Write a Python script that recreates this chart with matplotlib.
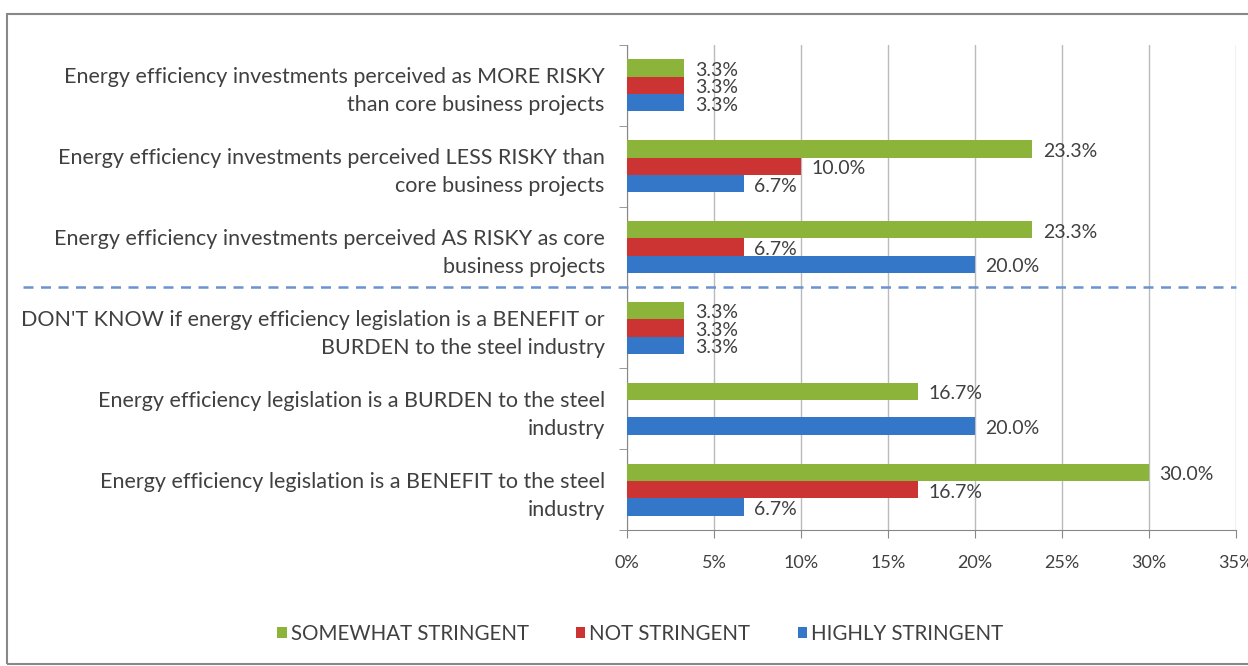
import matplotlib.pyplot as plt
from matplotlib.patches import Rectangle
import numpy as np

# categories from top to bottom
categories = [
    "Energy efficiency investments perceived as MORE RISKY\nthan core business projects",
    "Energy efficiency investments perceived LESS RISKY than\ncore business projects",
    "Energy efficiency investments perceived AS RISKY as core\nbusiness projects",
    "DON'T KNOW if energy efficiency legislation is a BENEFIT or\nBURDEN to the steel industry",
    "Energy efficiency legislation is a BURDEN to the steel\nindustry",
    "Energy efficiency legislation is a BENEFIT to the steel\nindustry",
]
somewhat = [3.3, 23.3, 23.3, 3.3, 16.7, 30.0]
not_str = [3.3, 10.0, 6.7, 3.3, None, 16.7]
highly = [3.3, 6.7, 20.0, 3.3, 20.0, 6.7]
series_names = ["SOMEWHAT STRINGENT", "NOT STRINGENT", "HIGHLY STRINGENT"]
colors = ["#8cb33a", "#cc3333", "#3476c8"]
xticks = [0, 5, 10, 15, 20, 25, 30, 35]

plt.rcParams["font.family"] = ["Lato", "DejaVu Sans"]
text_col = "#404040"

fig = plt.figure(figsize=(12.48, 6.66), dpi=100)
ax = fig.add_axes([0.5024, 0.2042, 0.4880, 0.7283])

n = len(categories)
ypos = np.arange(n)[::-1]  # top category at highest y
h = 0.215
offsets = [h, 0, -h]
all_series = [somewhat, not_str, highly]

for vals, off, col, name in zip(all_series, offsets, colors, series_names):
    for y, v in zip(ypos, vals):
        if v is None:
            continue
        ax.barh(y + off, v, height=h, color=col, zorder=3)
        ax.text(v + 0.6, y + off - 0.03, f"{v:.1f}%", va="center", ha="left",
                fontsize=14, color=text_col, zorder=4)
    ax.barh(np.nan, 0, color=col, label=name)

ax.set_ylim(-0.5, n - 0.5)
ax.set_xlim(0, 35)
ax.set_xticks(xticks)
ax.set_xticklabels([f"{t}%" for t in xticks], fontsize=13, color=text_col)
ax.set_yticks(ypos)
ax.set_yticklabels(categories, fontsize=15.5, color=text_col, linespacing=1.5)
ax.tick_params(axis="y", length=0, pad=16)
ax.set_yticks(np.arange(n + 1) - 0.5, minor=True)
ax.tick_params(axis="y", which="minor", length=6, color="#888888")
ax.tick_params(axis="x", length=6, color="#888888", pad=12)
ax.grid(axis="x", color="#bbbbbb", linewidth=1, zorder=0)
for s in ["top", "right"]:
    ax.spines[s].set_visible(False)
for s in ["left", "bottom"]:
    ax.spines[s].set_color("#888888")

# dashed separator between investment and legislation questions
ax.axhline(2.5, xmin=-0.992, xmax=1.0, color="#6b93cf", linestyle=(0, (4, 3)),
           linewidth=1.8, clip_on=False, zorder=5)

leg = fig.legend(loc="center", bbox_to_anchor=(0.513, 0.048), ncol=3, frameon=False,
                 fontsize=14.8, handlelength=0.45, handleheight=0.45, columnspacing=2.3,
                 handletextpad=0.2)
for t in leg.get_texts():
    t.set_color(text_col)

fig.patches.append(Rectangle((0.006, 0.003), 1.0, 0.976, transform=fig.transFigure,
                             fill=False, edgecolor="#888888", linewidth=1.5))

fig.savefig("out.png", dpi=100)
